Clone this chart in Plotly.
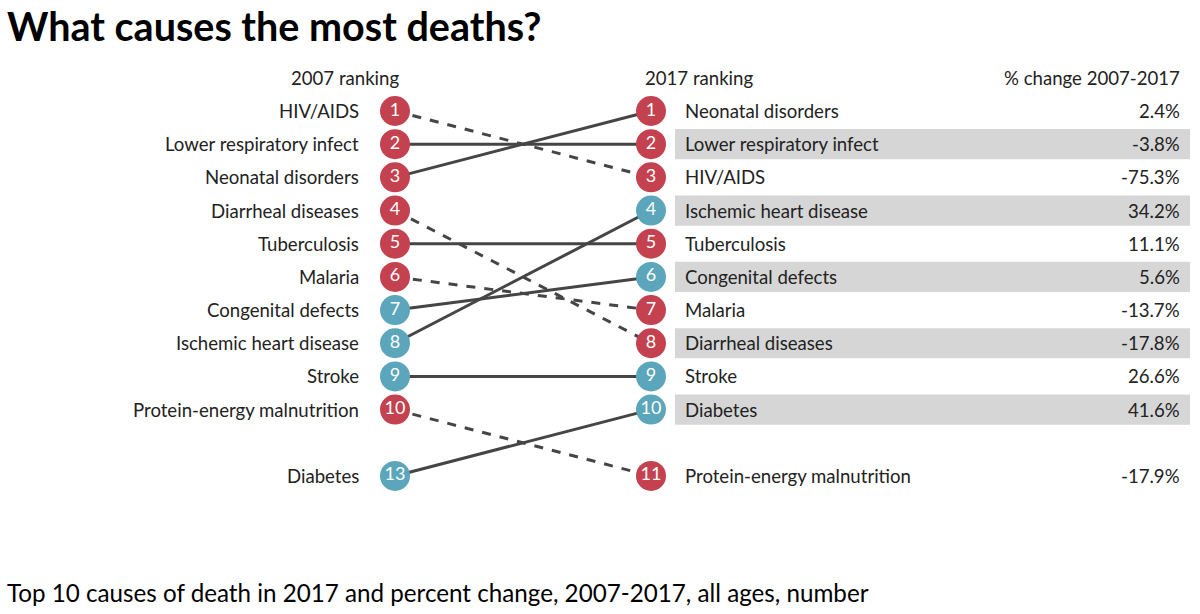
import plotly.graph_objects as go

# ---------------- data ----------------
causes = ["HIV/AIDS", "Lower respiratory infect", "Neonatal disorders", "Diarrheal diseases",
          "Tuberculosis", "Malaria", "Congenital defects", "Ischemic heart disease",
          "Stroke", "Protein-energy malnutrition", "Diabetes"]
rank_2007 = [1, 2, 3, 4, 5, 6, 7, 8, 9, 10, 13]
rank_2017 = [3, 2, 1, 8, 5, 7, 6, 4, 9, 11, 10]
pct_change = [-75.3, -3.8, 2.4, -17.8, 11.1, -13.7, 5.6, 34.2, 26.6, -17.9, 41.6]
group = ["comm", "comm", "comm", "comm", "comm", "comm", "ncd", "ncd", "ncd", "comm", "ncd"]

title = "What causes the most deaths?"
subtitle = "Top 10 causes of death in 2017 and percent change, 2007-2017, all ages, number"
header_2007 = "2007 ranking"
header_2017 = "2017 ranking"
header_pct = "% change 2007-2017"

# ---------------- style ----------------
W, H = 1200, 614
FONT = "Lato"
RED = "#c4414f"
BLUE = "#5ba6bb"
LINE = "#454545"
BAND = "#d6d6d6"
X07, X17 = 395, 651
color_map = {"comm": RED, "ncd": BLUE}

def slot(r):
    # ranks beyond 10 are displayed one row gap below the top 10
    return r if r <= 10 else 12

# y axis in row units: row 1 at pixel 111, spacing 33.18 px
row0_px, row_px = 111, 33.18
y_top = 1 - row0_px / row_px
y_bot = 1 + (H - row0_px) / row_px

fig = go.Figure()

# connecting lines
for c, r1, r2 in zip(causes, rank_2007, rank_2017):
    fig.add_trace(go.Scatter(
        x=[X07, X17], y=[slot(r1), slot(r2)], mode="lines",
        line=dict(color=LINE, width=3, dash="dash" if r2 > r1 else "solid"),
        hoverinfo="skip", showlegend=False))

# circles 2007 and 2017
for xpos, ranks in ((X07, rank_2007), (X17, rank_2017)):
    fig.add_trace(go.Scatter(
        x=[xpos] * len(causes), y=[slot(r) for r in ranks], mode="markers+text",
        marker=dict(size=30, color=[color_map[g] for g in group], line=dict(width=0)),
        text=[str(r) for r in ranks], textposition="middle center",
        textfont=dict(family=FONT, size=18, color="white"), showlegend=False,
        hovertext=causes))

shapes = []
annotations = []
lab_font = dict(family=FONT, size=18.6, color="#222")

for c, r1, r2, p in zip(causes, rank_2007, rank_2017, pct_change):
    annotations.append(dict(x=361, y=slot(r1), text=c, xanchor="right", yanchor="middle",
                            showarrow=False, font=lab_font))
    annotations.append(dict(x=683, y=slot(r2), text=c, xanchor="left", yanchor="middle",
                            showarrow=False, font=lab_font))
    annotations.append(dict(x=1182, y=slot(r2), text=f"{p:.1f}%", xanchor="right",
                            yanchor="middle", showarrow=False, font=lab_font))
    if r2 <= 10 and r2 % 2 == 0:
        shapes.append(dict(type="rect", xref="x", yref="y", x0=675, x1=1190,
                           y0=slot(r2) - 0.455, y1=slot(r2) + 0.455,
                           fillcolor=BAND, line=dict(width=0), layer="below"))

annotations += [
    dict(x=401, y=0, text=header_2007, xanchor="right", yanchor="middle", showarrow=False, font=lab_font),
    dict(x=643, y=0, text=header_2017, xanchor="left", yanchor="middle", showarrow=False, font=lab_font),
    dict(x=1182, y=0, text=header_pct, xanchor="right", yanchor="middle", showarrow=False, font=lab_font),
    dict(xref="paper", yref="paper", x=5 / W, y=1, text=f"<b>{title}</b>",
         xanchor="left", yanchor="top", showarrow=False,
         font=dict(family=FONT, size=39.5, color="black")),
    dict(xref="paper", yref="paper", x=5 / W, y=1 - 592 / H, text=subtitle,
         xanchor="left", yanchor="middle", showarrow=False,
         font=dict(family=FONT, size=24.2, color="black")),
]

fig.update_layout(
    width=W, height=H, margin=dict(l=0, r=0, t=0, b=0),
    paper_bgcolor="white", plot_bgcolor="white",
    xaxis=dict(range=[0, W], visible=False, fixedrange=True),
    yaxis=dict(range=[y_bot, y_top], visible=False, fixedrange=True),
    shapes=shapes, annotations=annotations, showlegend=False,
)

fig.write_html("out.html")
